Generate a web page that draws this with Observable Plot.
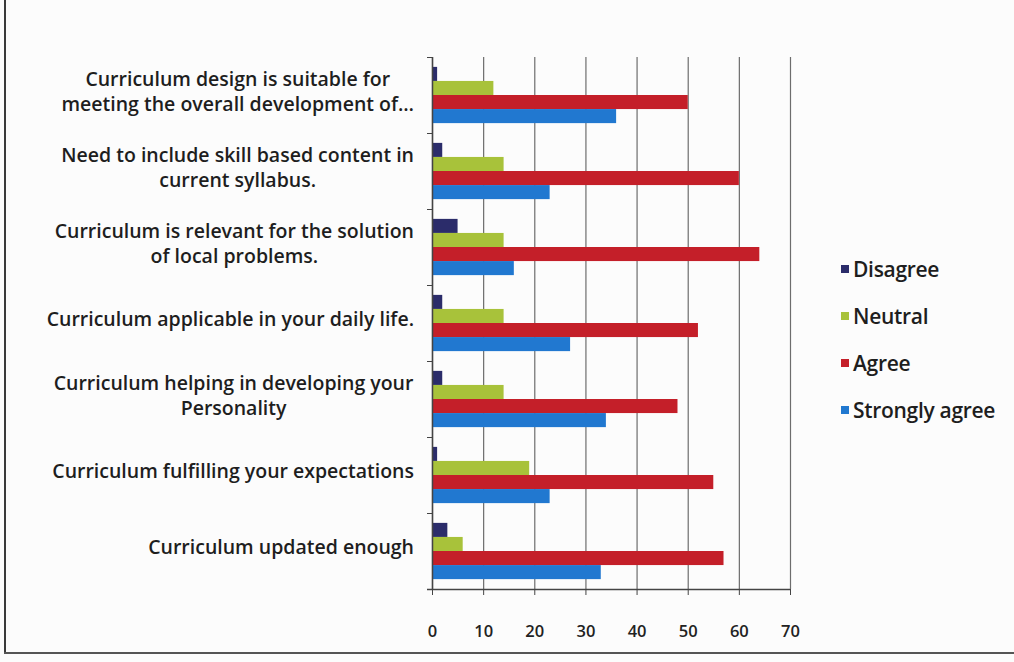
<!DOCTYPE html>
<html><head><meta charset="utf-8">
<script src="https://cdn.jsdelivr.net/npm/d3@7"></script>
<script src="https://cdn.jsdelivr.net/npm/@observablehq/plot@0.6"></script>
<style>
body{margin:0;background:#fff;}
#wrap{position:relative;width:1014px;height:662px;overflow:hidden;background:#fcfcfc}
#bl{position:absolute;left:4px;top:0;width:2px;height:654px;background:#3a3a3a}
#bb{position:absolute;left:4px;top:652px;width:1010px;height:2px;background:#555}
#legend{position:absolute;left:841px;top:254px;font-family:"Open Sans",sans-serif;font-weight:600;font-size:21px;color:#1e1e1e;letter-spacing:-0.3px}
.item{display:flex;align-items:center;height:30px;margin-bottom:17px}
.sw{width:8px;height:8px;margin-right:4px}
</style></head>
<body><div id="wrap"><div id="bl"></div><div id="bb"></div><div id="chart"></div><div id="legend"></div></div>
<script>
const categories = [
  "Curriculum design is suitable for\nmeeting the overall development of…",
  "Need to include skill based content in\ncurrent syllabus.",
  "Curriculum is relevant for the solution\nof local problems.",
  "Curriculum applicable in your daily life.",
  "Curriculum helping in developing your\nPersonality",
  "Curriculum fulfilling your expectations",
  "Curriculum updated enough"
];
const seriesNames = ["Disagree", "Neutral", "Agree", "Strongly agree"];
const disagree      = [1, 2, 5, 2, 2, 1, 3];
const neutral       = [12, 14, 14, 14, 14, 19, 6];
const agree         = [50, 60, 64, 52, 48, 55, 57];
const stronglyAgree = [36, 23, 16, 27, 34, 23, 33];
const xTicks = [0, 10, 20, 30, 40, 50, 60, 70];

const seriesValues = [disagree, neutral, agree, stronglyAgree];
const colors = ["#2b2c6a", "#a8c23a", "#c41f29", "#2178d0"];

const data = categories.flatMap((c, i) => seriesNames.map((s, j) => ({cat: c, series: s, value: seriesValues[j][i]})));

const W = 1014, H = 662, mt = 57, mb = 73, ml = 432, mr = 224;
const band = (H - mt - mb) / categories.length;
const slot = band * 0.185;
const gap = (band - 4 * slot) / 2;

const barMarks = seriesNames.map((s, j) => Plot.barX(data.filter(d => d.series === s), {
  y: "cat", x: "value", fill: colors[j],
  insetTop: gap + slot * j, insetBottom: band - gap - slot * (j + 1)
}));

const chart = Plot.plot({
  width: W, height: H,
  marginTop: mt, marginBottom: mb, marginLeft: ml, marginRight: mr,
  style: {background: "transparent", fontFamily: "'Open Sans', sans-serif"},
  x: {domain: [0, 70], ticks: xTicks},
  y: {domain: categories, padding: 0, axis: null},
  marks: [
    Plot.gridX(xTicks, {stroke: "#6d6d6d", strokeOpacity: 1, strokeWidth: 1.2}),
    ...barMarks,
    Plot.ruleX([0], {stroke: "#444", strokeWidth: 1.5}),
    Plot.ruleY(categories, {y: d => d, dy: -band / 2, x1: 0, x2: 0, insetLeft: -5, stroke: "#444"}),
    Plot.ruleY([categories[categories.length - 1]], {y: d => d, dy: band / 2, x1: 0, x2: 70, insetLeft: -5, stroke: "#444", strokeWidth: 1.5}),
    Plot.axisX(xTicks, {tickSize: 6, tickPadding: 30, fontSize: 16.5, fontWeight: 600, fill: "#222", stroke: "#444", label: null}),
    Plot.text(categories, {y: d => d, text: d => d, frameAnchor: "left", dx: -200, dy: -5,
      textAnchor: "middle", lineHeight: 1.25, fontSize: 19.5, fontWeight: 600, fill: "#1e1e1e"})
  ]
});
document.getElementById("chart").appendChild(chart);

// right-align each label block while keeping its lines centred within it
const targetRight = 414;
const svgLeft = chart.getBoundingClientRect().left;
chart.querySelectorAll('g[aria-label="text"] text').forEach(t => {
  const r = t.getBoundingClientRect();
  const shift = targetRight - (r.right - svgLeft);
  t.setAttribute("transform", `${t.getAttribute("transform") || ""} translate(${shift},0)`);
});

const legend = document.getElementById("legend");
seriesNames.forEach((s, j) => {
  const it = document.createElement("div");
  it.className = "item";
  it.innerHTML = `<span class="sw" style="background:${colors[j]}"></span><span>${s}</span>`;
  legend.appendChild(it);
});
</script></body></html>
